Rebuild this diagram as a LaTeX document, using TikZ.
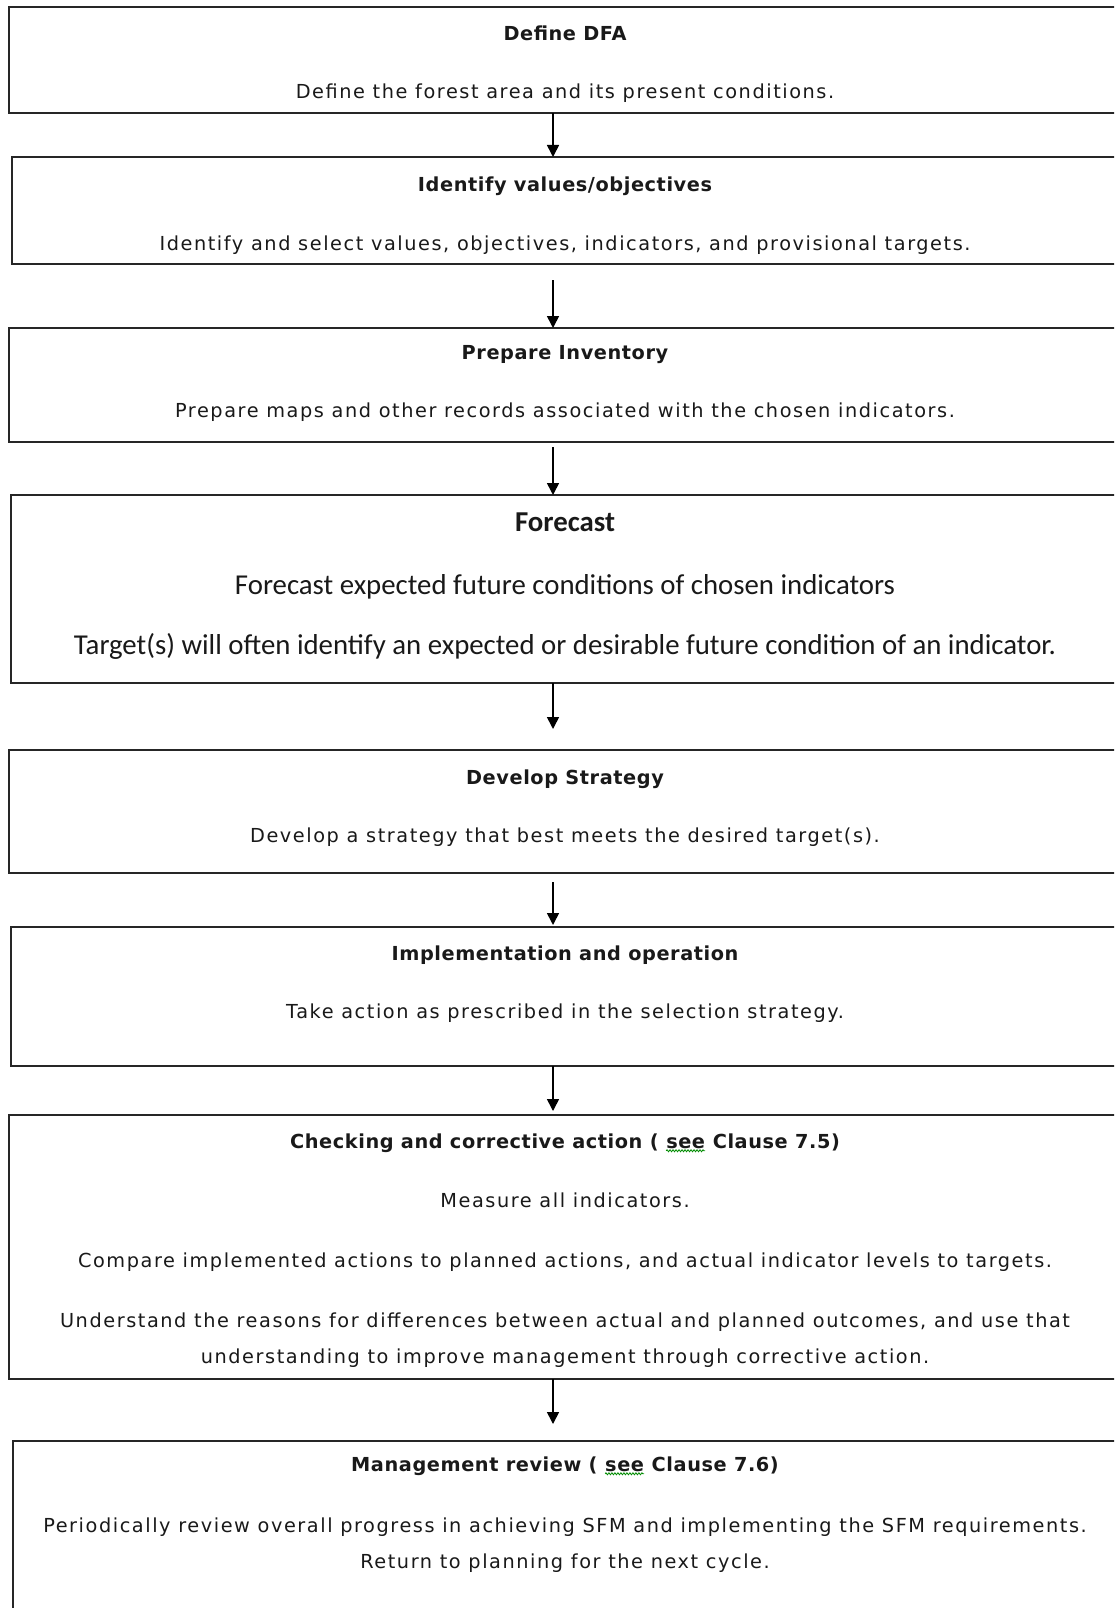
\documentclass[tikz,border=0pt]{standalone}
\usepackage{fontspec}
\setmainfont{DejaVu Sans}[LetterSpace=8.1, BoldFeatures={LetterSpace=3}]
\newfontfamily\calib{Carlito}
\usetikzlibrary{arrows.meta,decorations.pathmorphing}

\tikzset{
  stage/.style={draw=black!85, line width=1.6pt, rectangle, inner sep=0pt,
    outer sep=0pt, anchor=north west},
  txt/.style={inner sep=0pt, outer sep=0pt, anchor=base, text=black!90,
    font=\fontsize{19.3}{23}\selectfont},
  big/.style={txt, font=\calib\fontsize{28.8}{34}\selectfont},
  flow/.style={draw=black, line width=1.6pt,
    -{Triangle[width=12pt,length=12pt]}},
  squigline/.style={draw=green!55!black, line width=0.8pt, decorate,
    decoration={zigzag, segment length=3pt, amplitude=1pt}}
}

% word with a wavy underline
\newcommand\squig[1]{\tikz[baseline=(sq.base)]{\node[inner sep=0pt,outer sep=0pt](sq){#1};
  \draw[squigline] ([yshift=-2.5pt]sq.south west) -- ([yshift=-2.5pt]sq.south east);}}

\begin{document}
\begin{tikzpicture}[x=1pt, y=-1pt]
\useasboundingbox (0,0) rectangle (1114,1608);
\clip (0,0) rectangle (1114,1608);
\fill[white] (0,0) rectangle (1114,1608);

% stage boxes
\node[stage, minimum width=1111pt, minimum height=106pt] (b1) at (9,7) {};
\node[stage, minimum width=1108pt, minimum height=107pt] (b2) at (12,157) {};
\node[stage, minimum width=1111pt, minimum height=114pt] (b3) at (9,328) {};
\node[stage, minimum width=1109pt, minimum height=188pt] (b4) at (11,495) {};
\node[stage, minimum width=1111pt, minimum height=123pt] (b5) at (9,750) {};
\node[stage, minimum width=1109pt, minimum height=139pt] (b6) at (11,927) {};
\node[stage, minimum width=1111pt, minimum height=264pt] (b7) at (9,1115) {};
\node[stage, minimum width=1107pt, minimum height=190pt] (b8) at (13,1441) {};

% texts
\node[txt] (t1a) at (565,41) {\bfseries Define DFA};
\node[txt] (t1b) at (565,99) {Define the forest area and its present conditions.};

\node[txt] (t2a) at (565,192) {\bfseries Identify values/objectives};
\node[txt] (t2b) at (565,250) {Identify and select values, objectives, indicators, and provisional targets.};

\node[txt] (t3a) at (565,359) {\bfseries Prepare Inventory};
\node[txt] (t3b) at (565,417) {Prepare maps and other records associated with the chosen indicators.};

\node[big] (t4a) at (565,531) {\bfseries Forecast};
\node[big] (t4b) at (565,594) {Forecast expected future conditions of chosen indicators};
\node[big] (t4c) at (565,654) {Target(s) will often identify an expected or desirable future condition of an indicator.};

\node[txt] (t5a) at (565,784) {\bfseries Develop Strategy};
\node[txt] (t5b) at (565,842) {Develop a strategy that best meets the desired target(s).};

\node[txt] (t6a) at (565,960) {\bfseries Implementation and operation};
\node[txt] (t6b) at (565,1018) {Take action as prescribed in the selection strategy.};

\node[txt] (t7a) at (565,1148) {\bfseries Checking and corrective action ( \squig{see} Clause 7.5)};
\node[txt] (t7b) at (565,1207) {Measure all indicators.};
\node[txt] (t7c) at (565,1267) {Compare implemented actions to planned actions, and actual indicator levels to targets.};
\node[txt] (t7d) at (565,1327) {Understand the reasons for differences between actual and planned outcomes, and use that};
\node[txt] (t7e) at (565,1363) {understanding to improve management through corrective action.};

\node[txt] (t8a) at (565,1471) {\bfseries Management review ( \squig{see} Clause 7.6)};
\node[txt] (t8b) at (565,1532) {Periodically review overall progress in achieving SFM and implementing the SFM requirements.};
\node[txt] (t8c) at (565,1568) {Return to planning for the next cycle.};

% arrow end points
\coordinate (ax) at (553,0);
\coordinate (a2s) at (553,280);
\coordinate (a3s) at (553,447);
\coordinate (a4e) at (553,729);
\coordinate (a5s) at (553,882);
\coordinate (a5e) at (553,925);
\coordinate (a6e) at (553,1111);
\coordinate (a7e) at (553,1424);

% connectors
\draw[flow] (b1.south -| ax) -- (b2.north -| ax);
\draw[flow] (a2s) -- (b3.north -| ax);
\draw[flow] (a3s) -- (b4.north -| ax);
\draw[flow] (b4.south -| ax) -- (a4e);
\draw[flow] (a5s) -- (a5e);
\draw[flow] (b6.south -| ax) -- (a6e);
\draw[flow] (b7.south -| ax) -- (a7e);
\end{tikzpicture}
\end{document}
